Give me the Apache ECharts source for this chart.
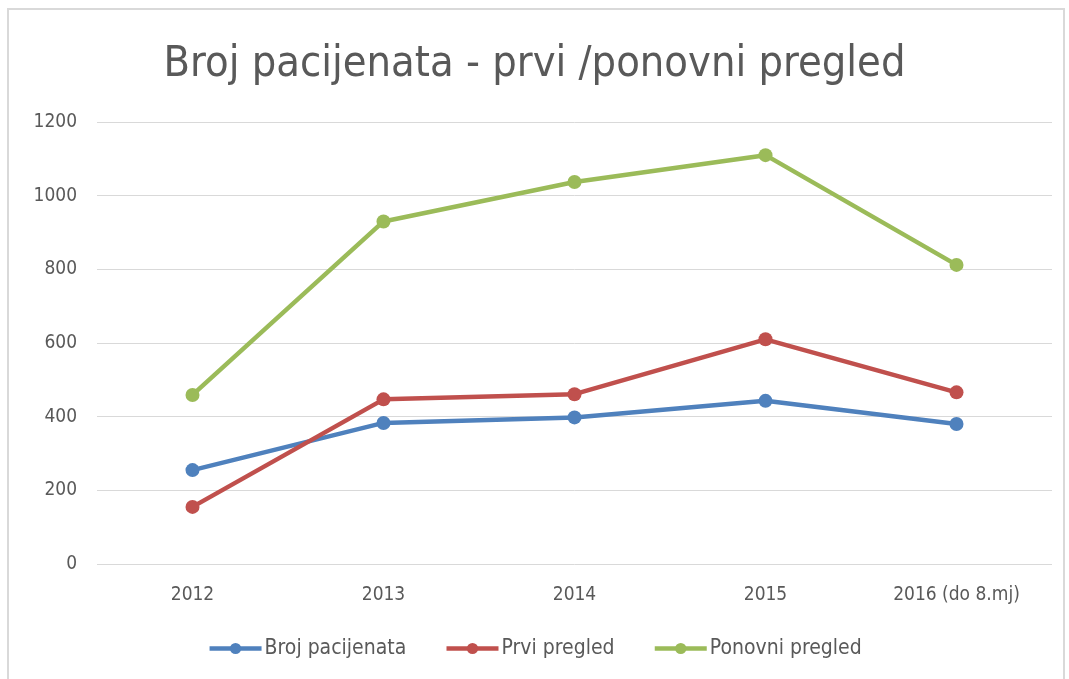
<!DOCTYPE html>
<html>
<head>
<meta charset="utf-8">
<script src="https://cdn.jsdelivr.net/npm/echarts@6/dist/echarts.min.js"></script>
<style>
  html, body { margin: 0; padding: 0; background: #fff; }
  #chart { width: 1069px; height: 679px; }
</style>
</head>
<body>
<div id="chart"></div>
<script>
// podaci procijenjeni sa slike
const categories = ['2012', '2013', '2014', '2015', '2016 (do 8.mj)'];
const brojPacijenata = [255, 383, 398, 443, 380];
const prviPregled = [155, 447, 461, 610, 466];
const ponovniPregled = [459, 930, 1037, 1110, 812];
const yTicks = { min: 0, max: 1200, interval: 200 };

const font = '"Liberation Sans Narrow", "DejaVu Sans Condensed", sans-serif';

function lineSeries(name, data, color) {
  return {
    name: name,
    type: 'line',
    data: data,
    symbol: 'circle',
    symbolSize: 14,
    lineStyle: { width: 4.5, color: color },
    itemStyle: { color: color }
  };
}

const chart = echarts.init(document.getElementById('chart'));
chart.setOption({
  backgroundColor: '#fff',
  textStyle: { fontFamily: font },
  title: {
    text: 'Broj pacijenata - prvi /ponovni pregled',
    left: 'center',
    top: 38,
    textStyle: { fontFamily: font, fontSize: 43, fontWeight: 'normal', color: '#595959' }
  },
  legend: {
    bottom: 15,
    left: 'center',
    itemWidth: 52,
    itemHeight: 14,
    itemGap: 38,
    lineStyle: { width: 4.5 },
    textStyle: { fontFamily: font, fontSize: 21, color: '#595959', padding: [0, 0, 0, -2] },
    data: ['Broj pacijenata', 'Prvi pregled', 'Ponovni pregled']
  },
  grid: { left: 97, right: 17, top: 122, bottom: 115 },
  xAxis: {
    type: 'category',
    data: categories,
    boundaryGap: true,
    axisLine: { show: false },
    axisTick: { show: false },
    axisLabel: { fontFamily: font, fontSize: 19, color: '#595959', margin: 22 }
  },
  yAxis: {
    type: 'value',
    min: yTicks.min,
    max: yTicks.max,
    interval: yTicks.interval,
    axisLine: { show: false },
    axisTick: { show: false },
    axisLabel: { fontFamily: font, fontSize: 19, color: '#595959', margin: 20, formatter: v => String(v) },
    splitLine: { lineStyle: { color: '#d9d9d9', width: 1 } }
  },
  series: [
    lineSeries('Broj pacijenata', brojPacijenata, '#4f81bd'),
    lineSeries('Prvi pregled', prviPregled, '#c0504d'),
    lineSeries('Ponovni pregled', ponovniPregled, '#9bbb59')
  ],
  graphic: [{
    type: 'rect',
    shape: { x: 8, y: 9, width: 1056, height: 672 },
    style: { fill: 'none', stroke: '#d9d9d9', lineWidth: 2 },
    silent: true
  }]
});
</script>
</body>
</html>
